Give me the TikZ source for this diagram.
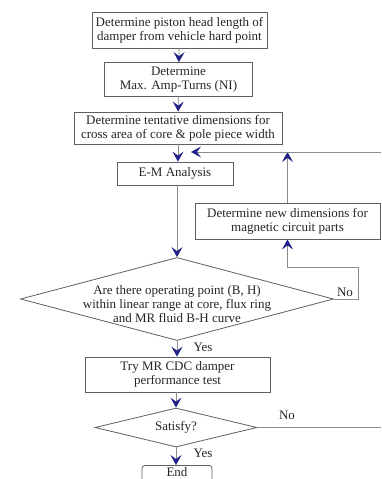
\documentclass[tikz,border=0pt]{standalone}
\usepackage{fontspec}
\setmainfont{Liberation Serif}
\usetikzlibrary{arrows.meta,shapes.geometric}
\definecolor{tipblue}{RGB}{35,35,135}
\definecolor{linegray}{RGB}{140,140,140}
\definecolor{boxgray}{RGB}{95,95,95}

\begin{document}
\begin{tikzpicture}[x=1pt,y=-1pt,
  every node/.style={font=\fontsize{13}{14}\selectfont, text=black!85, align=center, inner sep=0pt},
  procbox/.style={rectangle, draw=boxgray, line width=0.8pt},
  decision/.style={diamond, draw=boxgray, line width=0.8pt},
  flow/.style={draw=linegray, line width=0.8pt, -{Stealth[length=10pt,width=11pt,inset=4pt,color=tipblue]}},
  link/.style={draw=linegray, line width=0.8pt}]
\useasboundingbox (0,0) rectangle (381,479);
\clip (0,0) rectangle (381,479);
% Boxes
\node[procbox, minimum width=175, minimum height=36] (head) at (179.5,30) {Determine piston head length of\\damper from vehicle hard point};
\node[procbox, minimum width=148, minimum height=34] (amp) at (178.5,79.5) {Determine\\Max. Amp-Turns (NI)};
\node[procbox, minimum width=208, minimum height=32] (tent) at (178,128) {Determine tentative dimensions for\\cross area of core \& pole piece width};
\node[procbox, minimum width=116, minimum height=23] (em) at (175,173.5) {E-M Analysis};
\node[procbox, minimum width=185, minimum height=36] (newdim) at (287.5,221) {Determine new dimensions for\\magnetic circuit parts};
\node[procbox, minimum width=185, minimum height=35] (test) at (177.5,374.5) {Try MR CDC damper\\performance test};
\node[procbox, rounded corners=3pt, minimum width=70, text height=11pt, text depth=10pt, anchor=north] (finish) at (177,465) {End};
% Decisions
\node[decision, minimum width=313, minimum height=83] (range) at (177,299) {};
\node (rangetext) at (177,304) {Are there operating point (B, H)\\within linear range at core, flux ring\\and MR fluid B-H curve};
\node[decision, minimum width=162, minimum height=39] (satisfy) at (176,427.5) {};
\node (satisfytext) at (176,427) {Satisfy?};
% Labels
\node (yes1) at (203,347) {Yes};
\node (yes2) at (203,453) {Yes};
\node (no1) at (345,292) {No};
\node (no2) at (287,415) {No};
% Corners
\coordinate (bend) at (358,267);
\coordinate (back) at (381,152);
\coordinate (backtip) at (191,152);
\coordinate (exit) at (381,427.5);
% Connectors
\draw[flow] (head) -- (amp);
\draw[flow] (amp) -- (tent);
\draw[flow] (tent.south) -- (tent.south |- em.north);
\draw[flow] (em.south -| 177,0) -- (range.north);
\draw[flow] (range.south) -- (range.south |- test.north);
\draw[flow] (test.south -| satisfy.north) -- (satisfy.north);
\draw[flow] (satisfy.south) -- (satisfy.south |- finish.north);
\draw[flow] (range.east) -| (bend) -| (newdim.south);
\draw[flow] (newdim.north) -- (newdim.north |- back);
\draw[flow] (back) -- (backtip);
\draw[link] (satisfy.east) -- (exit);
\end{tikzpicture}
\end{document}
